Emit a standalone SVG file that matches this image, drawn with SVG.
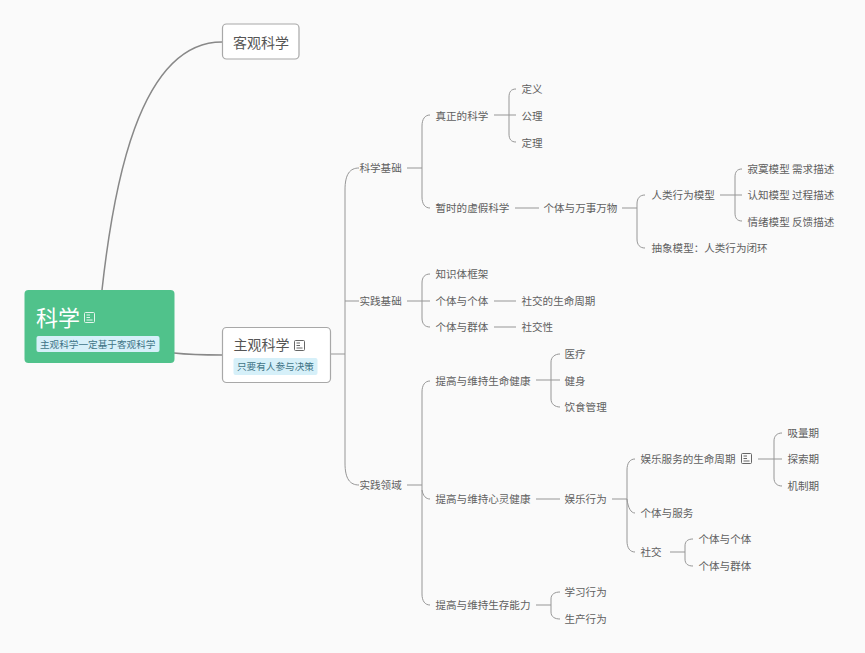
<svg xmlns="http://www.w3.org/2000/svg" width="865" height="653" viewBox="0 0 865 653">
<style>
text{font-family:"Noto Sans CJK SC","Liberation Sans",sans-serif;fill:#606060;font-size:10.55px;dominant-baseline:central}
.c{fill:none;stroke:#969696;stroke-width:1}
.m{fill:none;stroke:#888;stroke-width:1.5}
.box{fill:#fff;stroke:#a8a8a8;stroke-width:1.2}
.lb{fill:#d6f0f9}
text.lt{fill:#3f7486;font-size:9.65px}
text.t{font-size:14px;fill:#555}
.ic{fill:none;stroke:#666;stroke-width:1}
.icw{fill:none;stroke:#fff;stroke-width:1;opacity:.85}
</style>
<defs>
<g id="note"><rect x="0.5" y="0.5" width="10" height="10" rx="1"/><path d="M2.500 3H6M2.500 5.500H6M2.500 8H8.500"/></g>
</defs>
<rect width="865" height="653" fill="#fafafa"/>
<g id="connectors">
<path class="m" d="M102 290C113 190 138 42 222 42"/>
<path class="m" d="M174 353C192 355 205 355 222 355"/>
<path class="c" d="M331 354H345M359 168C350 168 345 174 345 190V463C345 479 350 485 359 485M345 301H359"/>
<path class="c" d="M407 168H422M430 115C425 115 422 119 422 126V197C422 204 425 208 430 208"/>
<path class="c" d="M494 115H516M516 89C511 89 509 92 509 97V134C509 139 511 142 516 142"/>
<path class="c" d="M515 208H539"/>
<path class="c" d="M622 208H637M645 195C640 195 637 198 637 204V239C637 245 640 248 645 248"/>
<path class="c" d="M720 195H742M742 169C737 169 735 172 735 177V213C735 218 737 221 742 221"/>
<path class="c" d="M407 301H422M430 274C425 274 422 277 422 283V318C422 324 425 327 430 327"/>
<path class="c" d="M422 301H430M494 301H516M494 327H516"/>
<path class="c" d="M407 485H422M430 381C425 381 422 385 422 392V594C422 601 425 605 430 605M422 490C423 496 426 499 430 499"/>
<path class="c" d="M536 380H560M560 354C555 354 551 357 551 362V399C551 404 555 407 560 407"/>
<path class="c" d="M536 499H560"/>
<path class="c" d="M612 499H627M635 459C630 459 627 463 627 470V541C627 548 630 552 635 552M627 499C628 508 631 513 635 513"/>
<path class="c" d="M758 459H782M782 433C777 433 774 436 774 441V478C774 483 777 486 782 486"/>
<path class="c" d="M670 552H685M693 539C688 539 685 541 685 546V559C685 564 688 566 693 566"/>
<path class="c" d="M536 605H551M560 592C555 592 551 594 551 599V612C551 617 555 619 560 619"/>
</g>
<g id="root"><rect x="24.500" y="290" width="150" height="73" rx="4" fill="#50c28b"/>
<text x="36" y="316" style="font-size:22px;fill:#fff">科学</text><use href="#note" x="84" y="312" class="icw"/>
<rect class="lb" x="36.500" y="336" width="123" height="16" rx="2"/><text class="lt" x="40" y="343.500">主观科学一定基于客观科学</text></g>
<g id="n-keguan"><rect class="box" x="222.500" y="24" width="76.500" height="35" rx="4"/><text class="t" x="233" y="41.500">客观科学</text></g>
<g id="n-zhuguan"><rect class="box" x="222.500" y="327.500" width="108" height="55" rx="4"/><text class="t" x="233.500" y="344">主观科学</text><use href="#note" x="294" y="340" class="ic"/>
<rect class="lb" x="233.500" y="358" width="84" height="17" rx="2"/><text class="lt" x="237" y="366">只要有人参与决策</text></g>
<g transform="translate(-0.5,-1)">
<g id="n1"><text x="360" y="168">科学基础</text></g>
<g id="n2"><text x="436" y="116">真正的科学</text></g>
<g id="n3"><text x="522" y="89">定义</text></g>
<g id="n4"><text x="522" y="116">公理</text></g>
<g id="n5"><text x="522" y="143">定理</text></g>
<g id="n6"><text x="436" y="208">暂时的虚假科学</text></g>
<g id="n7"><text x="544" y="208">个体与万事万物</text></g>
<g id="n8"><text x="652" y="195">人类行为模型</text></g>
<g id="n9"><text x="748" y="169">寂寞模型 需求描述</text></g>
<g id="n10"><text x="748" y="195">认知模型 过程描述</text></g>
<g id="n11"><text x="748" y="222">情绪模型 反馈描述</text></g>
<g id="n12"><text x="652" y="248">抽象模型：人类行为闭环</text></g>
<g id="n13"><text x="360" y="301">实践基础</text></g>
<g id="n14"><text x="436" y="274">知识体框架</text></g>
<g id="n15"><text x="436" y="301">个体与个体</text></g>
<g id="n16"><text x="522" y="301">社交的生命周期</text></g>
<g id="n17"><text x="436" y="327">个体与群体</text></g>
<g id="n18"><text x="522" y="327">社交性</text></g>
<g id="n19"><text x="360" y="485">实践领域</text></g>
<g id="n20"><text x="436" y="381">提高与维持生命健康</text></g>
<g id="n21"><text x="565" y="354">医疗</text></g>
<g id="n22"><text x="565" y="381">健身</text></g>
<g id="n23"><text x="565" y="407">饮食管理</text></g>
<g id="n24"><text x="436" y="499">提高与维持心灵健康</text></g>
<g id="n25"><text x="565" y="499">娱乐行为</text></g>
<g id="n26"><text x="641" y="459">娱乐服务的生命周期</text><use href="#note" x="741.500" y="454" class="ic"/></g>
<g id="n27"><text x="788" y="433">吸量期</text></g>
<g id="n28"><text x="788" y="459">探索期</text></g>
<g id="n29"><text x="788" y="486">机制期</text></g>
<g id="n30"><text x="641" y="513">个体与服务</text></g>
<g id="n31"><text x="641" y="552">社交</text></g>
<g id="n32"><text x="699" y="539">个体与个体</text></g>
<g id="n33"><text x="699" y="566">个体与群体</text></g>
<g id="n34"><text x="436" y="605">提高与维持生存能力</text></g>
<g id="n35"><text x="565" y="592">学习行为</text></g>
<g id="n36"><text x="565" y="619">生产行为</text></g>
</g>
</svg>
